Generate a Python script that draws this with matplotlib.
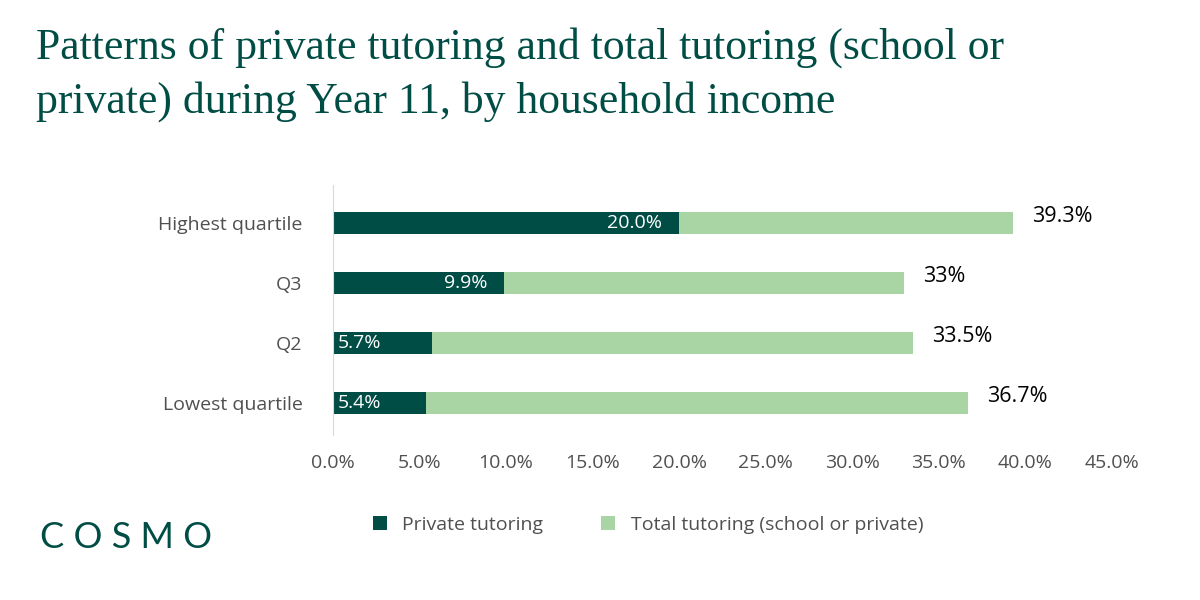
import matplotlib
matplotlib.use("Agg")
import matplotlib.pyplot as plt
from matplotlib.ticker import FuncFormatter

# data
categories = ["Lowest quartile", "Q2", "Q3", "Highest quartile"]
private = [5.4, 5.7, 9.9, 20.0]
total = [36.7, 33.5, 33.0, 39.3]
total_labels = ["36.7%", "33.5%", "33%", "39.3%"]
ticks = [0, 5, 10, 15, 20, 25, 30, 35, 40, 45]

dark = "#004D45"
light = "#A8D5A3"
plt.rcParams['font.family'] = ['Open Sans', 'DejaVu Sans']

fig = plt.figure(figsize=(12, 6), dpi=100)
ax = fig.add_axes([0.2775, 0.275, 0.649, 0.4167])

y = list(range(len(categories)))
ax.barh(y, total, height=0.37, color=light, label="Total tutoring (school or private)")
ax.barh(y, private, height=0.37, color=dark, label="Private tutoring")

for i in y:
    v = private[i]
    if v > 8:
        ax.text(v - 1.0, i, f"{v:.1f}%", color="white", ha="right", va="center", fontsize=14)
    else:
        ax.text(0.3, i, f"{v:.1f}%", color="white", ha="left", va="center", fontsize=14)
    ax.text(total[i] + 1.1, i + 0.12, total_labels[i], color="black", ha="left", va="center", fontsize=15.5)

ax.set_xlim(0, 45)
ax.set_ylim(-0.53, 3.64)
ax.set_xticks(ticks)
ax.xaxis.set_major_formatter(FuncFormatter(lambda v, p: f"{v:.1f}%"))
ax.set_yticks(y)
ax.set_yticklabels(categories)
ax.tick_params(axis="both", length=0, labelsize=14, colors="#505050", pad=14)
ax.tick_params(axis="y", pad=22)
for s in ["top", "right", "bottom"]:
    ax.spines[s].set_visible(False)
ax.spines["left"].set_color("#D9D9D9")

h, l = ax.get_legend_handles_labels()
fig.legend(h[::-1], l[::-1], loc="center", bbox_to_anchor=(0.54, 0.125), ncol=2, frameon=False,
           fontsize=14, handlelength=0.7, handleheight=0.7, columnspacing=3, labelcolor="#505050")

fig.text(0.03, 0.955, "Patterns of private tutoring and total tutoring (school or\nprivate) during Year 11, by household income",
         family="Liberation Serif", fontsize=31.5, color=dark, va="top", linespacing=1.4)
fig.text(0.033, 0.105, "C O S M O", fontsize=26, color=dark, va="center", family="Lato")

fig.savefig("out.png")
